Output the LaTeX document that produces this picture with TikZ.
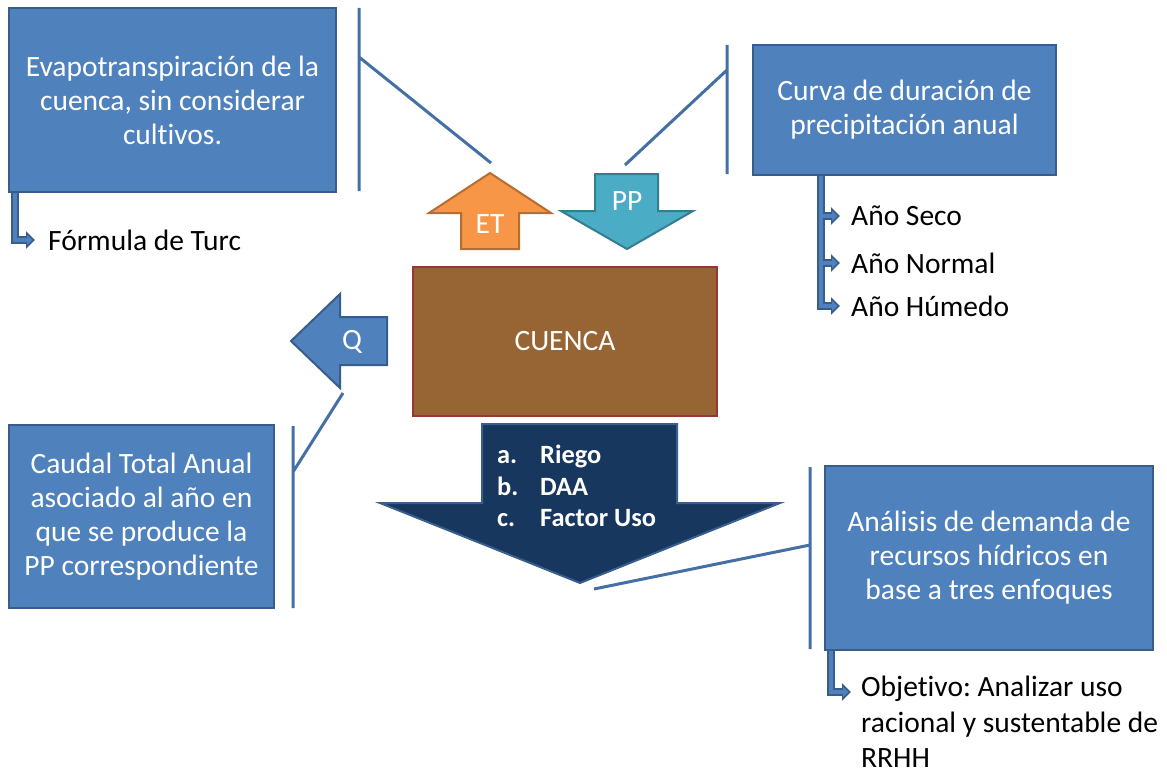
\documentclass[tikz,border=0pt]{standalone}
\usepackage{fontspec}
\setmainfont{Carlito}[Ligatures=NoCommon]
\usetikzlibrary{arrows.meta}
\frenchspacing

\definecolor{boxfill}{HTML}{4F81BD}
\definecolor{boxline}{HTML}{385D8A}
\definecolor{bracket}{HTML}{4470A6}
\definecolor{etfill}{HTML}{F79646}
\definecolor{etline}{HTML}{B66D31}
\definecolor{ppfill}{HTML}{4BACC6}
\definecolor{ppline}{HTML}{357D91}
\definecolor{cuencafill}{HTML}{976534}
\definecolor{cuencaline}{HTML}{953735}
\definecolor{navyfill}{HTML}{17375E}
\definecolor{navyline}{HTML}{3A5F8F}

\begin{document}
\begin{tikzpicture}[x=1pt,y=-1pt,
  box/.style={draw=boxline, fill=boxfill, line width=2pt, text=white,
    align=center, font=\fontsize{29.5}{34}\selectfont, inner sep=0pt},
  item/.style={inner sep=0pt, font=\fontsize{29.5}{35.5}\selectfont, align=left},
  bracketline/.style={draw=bracket, line width=3pt},
  subout/.style={draw=boxline, line width=8pt, -{Triangle[length=9pt,width=17pt]}},
  subin/.style={draw=boxfill, line width=4pt, shorten >=2.5pt, -{Triangle[length=5.5pt,width=10pt]}},
  arrowlbl/.style={text=white, font=\fontsize{29.5}{33}\selectfont, inner sep=0pt},
]
\useasboundingbox (0,0) rectangle (1167,776);

% ---- text boxes
\node[box, minimum width=327, minimum height=184] (et) at (172.5,100)
  {Evapotranspiración de la\\ cuenca, sin considerar\\ cultivos.};
\node[box, minimum width=303, minimum height=130] (pp) at (904.5,110)
  {Curva de duración de\\ precipitación anual};
\node[box, minimum width=265, minimum height=183] (caudal) at (141.5,516.5)
  {Caudal Total Anual\\ asociado al año en\\ que se produce la\\ PP correspondiente};
\node[box, minimum width=328, minimum height=184] (demanda) at (989,558)
  {Análisis de demanda de\\ recursos hídricos en\\ base a tres enfoques};

% ---- basin
\node[draw=cuencaline, fill=cuencafill, line width=2pt, text=white,
  minimum width=304, minimum height=149, inner sep=0pt,
  font=\fontsize{29.5}{33}\selectfont] (cuenca) at (565,341.5) {CUENCA};

% ---- block arrows
\filldraw[fill=etfill, draw=etline, line width=2pt, line join=miter]
  (490,173) -- (551,213) -- (519,213) -- (519,249) -- (461,249) -- (461,213) -- (429,213) -- cycle;
\node[arrowlbl] (etlbl) at (490,224) {ET};

\filldraw[fill=ppfill, draw=ppline, line width=2pt, line join=miter]
  (595,174) -- (658,174) -- (658,211) -- (693,211) -- (627,249) -- (561,211) -- (595,211) -- cycle;
\node[arrowlbl] (pplbl) at (627,201) {PP};

\filldraw[fill=boxfill, draw=boxline, line width=2pt, line join=miter]
  (291,341) -- (340,294) -- (340,317) -- (387,317) -- (387,365) -- (340,365) -- (340,388) -- cycle;
\node[arrowlbl] (qlbl) at (352,342) {Q};

\filldraw[fill=navyfill, draw=navyline, line width=2pt, line join=miter]
  (482,424) -- (677,424) -- (677,503) -- (780,503) -- (580,583) -- (380,503) -- (482,503) -- cycle;
\node[anchor=west, inner sep=0pt, text=white, align=left,
  font=\fontsize{26.4}{31.5}\selectfont\bfseries] (usos) at (497,486)
  {\makebox[43pt][l]{a.}Riego\\ \makebox[43pt][l]{b.}DAA\\ \makebox[43pt][l]{c.}Factor Uso};

% ---- bracket connectors
\coordinate (etTop) at (359,8);   \coordinate (etBot) at (359,191);
\coordinate (etMid) at (359,57);  \coordinate (etTip) at (491,163);
\coordinate (ppTop) at (727,45);  \coordinate (ppBot) at (727,174);
\coordinate (ppMid) at (727,70);  \coordinate (ppTip) at (625,165);
\coordinate (qTop) at (293,426);  \coordinate (qBot) at (293,608);
\coordinate (qMid) at (293,472);  \coordinate (qTip) at (343,393);
\coordinate (dTop) at (810,467);  \coordinate (dBot) at (810,649);
\coordinate (dMid) at (810,545);  \coordinate (dTip) at (594,589);
\draw[bracketline] (etTop) -- (etBot) (etMid) -- (etTip);
\draw[bracketline] (ppTop) -- (ppBot) (ppMid) -- (ppTip);
\draw[bracketline] (qTop) -- (qBot) (qMid) -- (qTip);
\draw[bracketline] (dTop) -- (dBot) (dMid) -- (dTip);

% ---- sub items
\node[item, anchor=west] (turc) at (48,240) {Fórmula de Turc};
\node[item, anchor=west] (seco) at (851,216) {Año Seco};
\node[item, anchor=west] (normal) at (851,263) {Año Normal};
\node[item, anchor=west] (humedo) at (851,306) {Año Húmedo};
\node[item, anchor=north west] (obj) at (861,676)
  {Objetivo: Analizar uso\\ racional y sustentable de\\ RRHH};
\coordinate (objTip) at (851,692);

% outlined elbow arrows: dark outline first, light core on top
\foreach \s in {subout, subin} {
  \draw[\s] ([xshift=7]et.south west) |- ([xshift=-13]turc.west);
  \draw[\s] ([xshift=69]pp.south west) |- ([xshift=-11]seco.west);
  \draw[\s] ([xshift=69]pp.south west) |- ([xshift=-11]normal.west);
  \draw[\s] ([xshift=69]pp.south west) |- ([xshift=-11]humedo.west);
  \draw[\s] ([xshift=7]demanda.south west) |- (objTip);
}
\end{tikzpicture}
\end{document}
